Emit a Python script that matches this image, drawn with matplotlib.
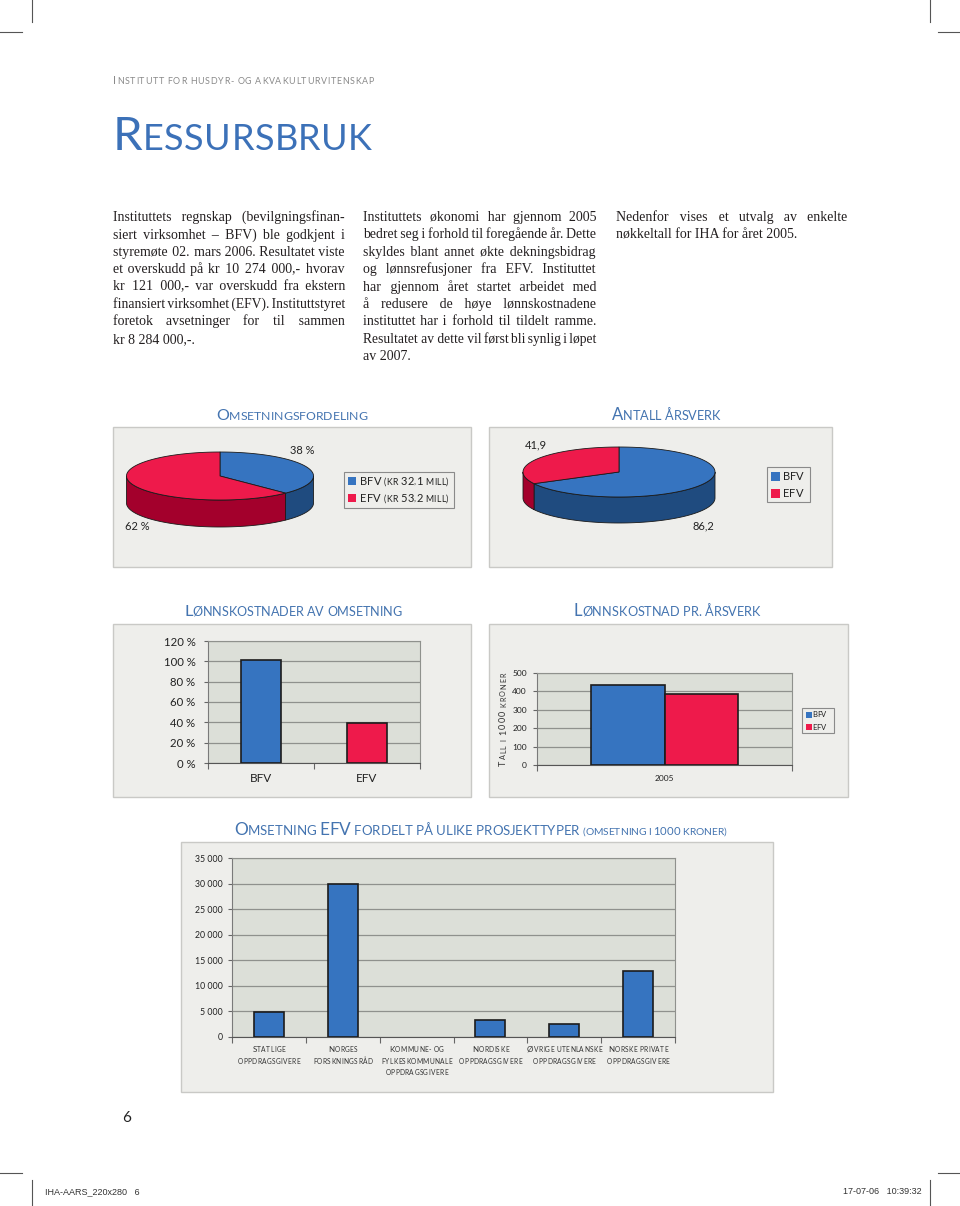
import numpy as np
import matplotlib
matplotlib.use('Agg')
import matplotlib.pyplot as plt
from matplotlib.patches import Rectangle, Polygon
from matplotlib.font_manager import FontProperties, findfont, get_font

# ---------------- data ----------------
pie1_groups = ['BFV', 'EFV']
pie1_mill = [32.1, 53.2]          # omsetning, kr mill
pie2_groups = ['BFV', 'EFV']
pie2_arsverk = [86.2, 41.9]       # antall årsverk
bar1_categories = ['BFV', 'EFV']
bar1_percent = [101, 39]          # lønnskostnader av omsetning, %
bar1_yticks = [0, 20, 40, 60, 80, 100, 120]
bar2_year = ['2005']
bar2_bfv = [435]                  # lønnskostnad pr. årsverk, 1000 kr
bar2_efv = [388]
bar2_yticks = [0, 100, 200, 300, 400, 500]
proj_categories = [
    ['Statlige', 'oppdragsgivere'],
    ['Norges', 'forskningsråd'],
    ['Kommune- og', 'fylkeskommunale', 'oppdragsgivere'],
    ['Nordiske', 'oppdragsgivere'],
    ['Øvrige utenlanske', 'oppdragsgivere'],
    ['Norske private', 'oppdragsgivere'],
]
proj_values = [4900, 29900, 0, 3300, 2500, 13000]
proj_yticks = [0, 5000, 10000, 15000, 20000, 25000, 30000, 35000]

col1_lines = [
    "Instituttets regnskap (bevilgningsfinan-",
    "siert virksomhet – BFV) ble godkjent i",
    "styremøte 02. mars 2006. Resultatet viste",
    "et overskudd på kr 10 274 000,- hvorav",
    "kr 121 000,- var overskudd fra ekstern",
    "finansiert virksomhet (EFV). Instituttstyret",
    "foretok avsetninger for til sammen",
    "kr 8 284 000,-.",
]
col2_lines = [
    "Instituttets økonomi har gjennom 2005",
    "bedret seg i forhold til foregående år. Dette",
    "skyldes blant annet økte dekningsbidrag",
    "og lønnsrefusjoner fra EFV. Instituttet",
    "har gjennom året startet arbeidet med",
    "å redusere de høye lønnskostnadene",
    "instituttet har i forhold til tildelt ramme.",
    "Resultatet av dette vil først bli synlig i løpet",
    "av 2007.",
]
col3_lines = [
    "Nedenfor vises et utvalg av enkelte",
    "nøkkeltall for IHA for året 2005.",
]

# ---------------- style ----------------
SANS = 'Lato'
SERIF = 'Liberation Serif'
BLUE = '#3674c0'
RED = '#ee1a4b'
DBLUE = '#1f4b7f'
DRED = '#a3002c'
TBLUE = '#4474b0'
PANEL = '#eeeeeb'
PLOTBG = '#dcdfd8'
GRID = '#8f918d'

W, H = 960, 1206
fig = plt.figure(figsize=(W / 100, H / 100), dpi=100)
fig.patch.set_facecolor('white')
R = fig.canvas.get_renderer()


def px_axes(l, t, r, b, z=0):
    ax = fig.add_axes([l / W, 1 - b / H, (r - l) / W, (b - t) / H])
    ax.set_zorder(z)
    return ax


bg = px_axes(0, 0, W, H, z=-5)
bg.set_xlim(0, W); bg.set_ylim(H, 0); bg.axis('off')
ov = px_axes(0, 0, W, H, z=10)
ov.set_xlim(0, W); ov.set_ylim(H, 0); ov.axis('off')
ov.patch.set_alpha(0)

_wc = {}


def tw(s, family, size):
    key = (s, family, round(size, 3))
    if key not in _wc:
        fp = FontProperties(family=family, size=size)
        w, h, d = R.get_text_width_height_descent(s, fp, ismath=False)
        _wc[key] = w
    return _wc[key]


def adv(ch, family, size):
    return tw('x' + ch + 'x', family, size) - tw('xx', family, size)


def sc_chars(s, big, small):
    out = []
    for ch in s:
        if ch.isupper() or ch.isdigit():
            out.append((ch, big))
        elif ch.islower():
            out.append((ch.upper(), small))
        else:
            out.append((ch, small))
    return out


def sc_text(x, y, segs, color, ha='left', family=SANS, target=None, rot=0, track0=0.0):
    chars = []
    for s, b, sm in segs:
        chars += sc_chars(s, b, sm)

    def natural(scale):
        return sum(adv(c, family, sz * scale) for c, sz in chars)

    scale, track = 1.0, track0
    wn = natural(1.0)
    if target is not None:
        if wn > target:
            scale = target / wn
            wn = natural(scale)
        track = (target - wn) / max(len(chars) - 1, 1)
        total = target
    else:
        total = wn + track * (len(chars) - 1)
    if ha == 'center':
        off0 = -total / 2
    elif ha == 'right':
        off0 = -total
    else:
        off0 = 0
    s = off0
    for c, sz in chars:
        if c != ' ':
            if rot == 0:
                px, py = x + s, y
            else:
                px, py = x, y - s
            ov.text(px, py, c, fontsize=sz * scale, family=family, color=color,
                    ha='left', va='baseline', rotation=rot, rotation_mode='anchor')
        s += adv(c, family, sz * scale) + track
    return total


# --- justified body text: one Text per line, gaps built from fine spaces ---
_sfont = get_font(findfont(FontProperties(family=SERIF)))
HAS_THIN = _sfont.get_char_index(0x2009) != 0
HAS_HAIR = _sfont.get_char_index(0x200A) != 0
THIN, HAIR = '\u2009', '\u200a'


def gap_parts(G, sz):
    sp = adv(' ', SERIF, sz)
    nsp, nth, nh = 0, 0, 0
    rem = G
    if rem >= sp - 0.2 or not (HAS_THIN or HAS_HAIR):
        nsp = 1
        rem -= sp
    if HAS_THIN:
        t_ = adv(THIN, SERIF, sz)
        if t_ > 0:
            nth = max(int(rem // t_), 0)
            rem -= nth * t_
    if HAS_HAIR:
        hw = adv(HAIR, SERIF, sz)
        if hw > 0:
            nh = max(int(round(rem / hw)), 0)
    if nsp + nth + nh == 0:
        nsp = 1
    return [nsp, nth, nh]


def gstr(p):
    return ' ' * p[0] + THIN * p[1] + HAIR * p[2]


def join_line(words, gaps):
    s = words[0]
    for g, w in zip(gaps, words[1:]):
        s += gstr(g) + w
    return s


def body_column(x0, x1, y0, lines, size, lh, color='#231f20'):
    colw = x1 - x0
    fine = HAS_THIN or HAS_HAIR
    for i, line in enumerate(lines):
        last = (i == len(lines) - 1)
        y = y0 + i * lh
        words = line.split(' ')
        n = len(words)
        sz = size
        sp = adv(' ', SERIF, sz)
        ws = [tw(w, SERIF, sz) for w in words]
        min_gap = (0.8 if fine else 1.0) * sp
        if sum(ws) + min_gap * (n - 1) > colw:
            sz = size * (colw - min_gap * (n - 1)) / sum(ws)
            sp = adv(' ', SERIF, sz)
            ws = [tw(w, SERIF, sz) for w in words]
        if last or n == 1:
            ov.text(x0, y, line, fontsize=sz, family=SERIF, color=color,
                    ha='left', va='baseline')
            continue
        G = (colw - sum(ws)) / (n - 1)
        if fine:
            base = gap_parts(G, sz)
            gaps = [list(base) for _ in range(n - 1)]
            if HAS_HAIR:
                hw = adv(HAIR, SERIF, sz)
                total = tw(join_line(words, gaps), SERIF, sz)
                extra = int(round((colw - total) / hw)) if hw > 0 else 0
                k = 0
                while extra != 0 and k < 200:
                    g = gaps[k % (n - 1)]
                    if extra > 0:
                        g[2] += 1
                        extra -= 1
                    elif g[2] > 0:
                        g[2] -= 1
                        extra += 1
                    k += 1
            ov.text(x0, y, join_line(words, gaps), fontsize=sz, family=SERIF,
                    color=color, ha='left', va='baseline')
        else:
            cur = x0
            for w, wd in zip(words, ws):
                ov.text(cur, y, w, fontsize=sz, family=SERIF, color=color,
                        ha='left', va='baseline')
                cur += wd + G


# ---------------- crop marks ----------------
for (xs, ys) in [([32, 32], [0, 22]), ([0, 22], [32, 32]),
                 ([930, 930], [0, 22]), ([938, 960], [32, 32]),
                 ([0, 22], [1173, 1173]), ([938, 960], [1173, 1173]),
                 ([32, 32], [1180, 1206]), ([930, 930], [1180, 1206])]:
    bg.plot(xs, ys, color='#555555', lw=0.8)

# ---------------- header / title / body ----------------
sc_text(113, 84, [("Institutt for husdyr- og akvakulturvitenskap", 8, 6.4)],
        '#8a8a8a', target=261)
sc_text(113, 150, [("Ressursbruk", 34, 26)], '#3c71b8', target=259)

body_column(113, 345, 221, col1_lines, 10.0, 17.4)
body_column(363, 596, 221, col2_lines, 10.0, 17.4)
body_column(616, 847, 221, col3_lines, 10.0, 17.4)

# ---------------- panels ----------------
panels = [(113, 427, 471, 567), (489, 427, 832, 567),
          (113, 624, 471, 797), (489, 624, 848, 797),
          (181, 842, 773, 1092)]
for (l, t, r, b) in panels:
    bg.add_patch(Rectangle((l, t), r - l, b - t, fc=PANEL, ec='#c9c9c6', lw=1.0))

# titles
sc_text(292, 420, [("Omsetningsfordeling", 13, 10)], TBLUE, ha='center', target=151)
sc_text(666, 420, [("Antall årsverk", 13, 10)], TBLUE, ha='center', target=109)
sc_text(293, 616, [("Lønnskostnader av omsetning", 13, 10)], TBLUE, ha='center', target=218)
sc_text(667, 616, [("Lønnskostnad pr. årsverk", 13, 10)], TBLUE, ha='center', target=187)
sc_text(480, 835, [("Omsetning EFV fordelt på ulike prosjekttyper ", 13, 10),
                   ("(omsetning i 1000 kroner)", 8.5, 7.7)], TBLUE, ha='center', target=492)


# ---------------- 3D pies ----------------
def draw_pie(cx, cy, a, b, depth, values, colors, side_colors, start=90):
    m = 3
    ax = px_axes(cx - a - m, cy - b - m, cx + a + m, cy + b + depth + m, z=2)
    ax.set_xlim(-a - m, a + m)
    ax.set_ylim(-b - depth - m, b + m)
    ax.axis('off')
    fr = np.asarray(values, float) / np.sum(values)
    cum = np.concatenate([[0], np.cumsum(fr)])
    edge = '#1a1a1a'
    for i in range(len(values)):
        hi = start - cum[i] * 360
        lo = start - cum[i + 1] * 360
        for flo, fhi in [(-180, 0), (-540, -360)]:
            s_lo, s_hi = max(lo, flo), min(hi, fhi)
            if s_hi > s_lo:
                t = np.radians(np.linspace(s_lo, s_hi, 80))
                top = np.c_[a * np.cos(t), b * np.sin(t)]
                bot = np.c_[a * np.cos(t[::-1]), b * np.sin(t[::-1]) - depth]
                ax.add_patch(Polygon(np.vstack([top, bot]), closed=True,
                                     fc=side_colors[i], ec=edge, lw=0.6, zorder=1))
        t = np.radians(np.linspace(hi, lo, 120))
        pts = np.vstack([[0, 0], np.c_[a * np.cos(t), b * np.sin(t)]])
        ax.add_patch(Polygon(pts, closed=True, fc=colors[i], ec=edge, lw=0.6, zorder=2))
    return fr


fr1 = draw_pie(220, 476, 93.5, 24, 27, pie1_mill, [BLUE, RED], [DBLUE, DRED])
fr2 = draw_pie(619, 472, 96, 25, 26, pie2_arsverk, [BLUE, RED], [DBLUE, DRED])

# pie labels
lab_kw = dict(fontsize=8, family=SANS, color='#222222', ha='center', va='center')
ov.text(302, 450, f"{fr1[0] * 100:.0f} %", **lab_kw)
ov.text(137, 527, f"{fr1[1] * 100:.0f} %", **lab_kw)
ov.text(703, 526, f"{pie2_arsverk[0]:.1f}".replace('.', ','), **lab_kw)
ov.text(536, 445, f"{pie2_arsverk[1]:.1f}".replace('.', ','), **lab_kw)


# legends
def legend(x0, y0, x1, y1, rows, labels, sq, fs_big, fs_small, tx, colors, target=None):
    ov.add_patch(Rectangle((x0, y0), x1 - x0, y1 - y0, fc=PANEL, ec='#8a8a8a', lw=0.8))
    for yc, lab, c in zip(rows, labels, colors):
        ov.add_patch(Rectangle((x0 + 4, yc - sq / 2), sq, sq, fc=c, ec='none'))
        sc_text(tx, yc + fs_big * 100 / 72 * 0.36, [(lab, fs_big, fs_small)], '#222222',
                target=target)


leg1 = [f"{g} (kr {v:.1f} mill)".replace('.', ',') for g, v in zip(pie1_groups, pie1_mill)]
legend(344, 472, 454, 508, [481, 498], leg1, 8, 8, 6.3, 360, [BLUE, RED], target=88)
legend(767, 467, 810, 502, [476, 493], pie2_groups, 9, 8, 6, 783, [BLUE, RED])
legend(802, 708, 834, 733, [714.5, 727], ['BFV', 'EFV'], 6, 5.5, 5, 812, [BLUE, RED])


# ---------------- bar charts ----------------
def style_bar_ax(ax, yticks, labels, fs, pad):
    ax.set_facecolor(PLOTBG)
    ax.set_ylim(yticks[0], yticks[-1])
    ax.set_yticks(yticks)
    ax.set_yticklabels(labels, fontsize=fs, family=SANS, color='#222222')
    ax.yaxis.grid(True, color=GRID, lw=0.9)
    ax.set_axisbelow(True)
    for s in ['top', 'right']:
        ax.spines[s].set_color(GRID)
    ax.spines['left'].set_color('#7a7a7a')
    ax.spines['bottom'].set_color('#555555')
    ax.tick_params(axis='y', length=3, width=0.8, color='#666666', pad=pad)
    ax.tick_params(axis='x', which='major', length=0)
    ax.tick_params(axis='x', which='minor', length=4, width=0.8, color='#666666')


# chart 1
ax1 = px_axes(208, 641, 420, 763, z=2)
x1 = np.arange(len(bar1_categories))
ax1.bar(x1, bar1_percent, width=0.37, color=[BLUE, RED], edgecolor='#1c1c1c', lw=1.2, zorder=3)
ax1.set_xlim(-0.5, len(x1) - 0.5)
style_bar_ax(ax1, bar1_yticks, [f"{v} %" for v in bar1_yticks], 8.2, 6)
ax1.set_xticks(x1)
ax1.set_xticklabels(bar1_categories, fontsize=8.5, family=SANS, color='#222222')
ax1.set_xticks(np.arange(len(x1) + 1) - 0.5, minor=True)
ax1.tick_params(axis='x', which='major', pad=7)

# chart 2
ax2 = px_axes(537, 673, 792, 765, z=2)
x2 = np.arange(len(bar2_year))
bw = 0.29
ax2.bar(x2 - bw / 2, bar2_bfv, width=bw, color=BLUE, edgecolor='#1c1c1c', lw=1.2, zorder=3)
ax2.bar(x2 + bw / 2, bar2_efv, width=bw, color=RED, edgecolor='#1c1c1c', lw=1.2, zorder=3)
ax2.set_xlim(-0.5, len(x2) - 0.5)
style_bar_ax(ax2, bar2_yticks, [str(v) for v in bar2_yticks], 6, 4.3)
ax2.set_xticks(x2)
ax2.set_xticklabels(bar2_year, fontsize=6, family=SANS, color='#222222')
ax2.set_xticks(np.arange(len(x2) + 1) - 0.5, minor=True)
ax2.tick_params(axis='x', which='major', pad=7)
sc_text(506, 719, [("Tall i 1000 kroner", 6.5, 5.2)], '#333333', ha='center', target=93, rot=90)

# chart 3
ax3 = px_axes(232, 858, 675, 1037, z=2)
x3 = np.arange(len(proj_values))
lw3 = [1.2 if v > 0 else 0 for v in proj_values]
ax3.bar(x3, proj_values, width=0.405, color=BLUE, edgecolor='#1c1c1c', lw=lw3, zorder=3)
ax3.set_xlim(-0.5, len(x3) - 0.5)
style_bar_ax(ax3, proj_yticks, [f"{v:,}".replace(',', ' ') for v in proj_yticks], 6.3, 3.6)
ax3.set_xticks(x3)
ax3.set_xticklabels([''] * len(x3))
ax3.set_xticks(np.arange(len(x3) + 1) - 0.5, minor=True)

for i, lines in enumerate(proj_categories):
    dx, dy = ax3.transData.transform((x3[i], 0))
    for j, ln in enumerate(lines):
        sc_text(dx, (H - dy) + 15 + j * 11.5, [(ln, 5.8, 4.8)], '#333333', ha='center',
                track0=0.35)

# ---------------- page number / footer ----------------
ov.text(127, 1118, "6", fontsize=11, family=SANS, color='#222222', ha='center', va='center')
ov.text(45, 1192, "IHA-AARS_220x280   6", fontsize=6.5, family='Liberation Sans',
        color='#333333', ha='left', va='center')
ov.text(922, 1192, "17-07-06   10:39:32", fontsize=6.5, family='Liberation Sans',
        color='#333333', ha='right', va='center')

fig.savefig('out.png', dpi=100, facecolor='white')
